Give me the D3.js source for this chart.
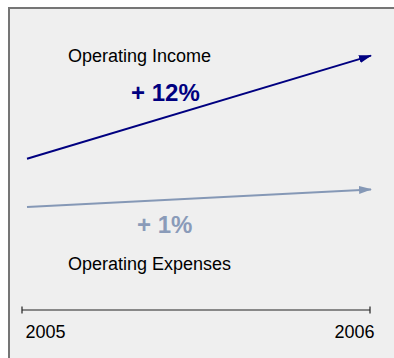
<!DOCTYPE html>
<html>
<head>
<meta charset="utf-8">
<script src="https://cdn.jsdelivr.net/npm/d3@7"></script>
<style>
  html, body { margin: 0; padding: 0; background: #ffffff; }
  svg { display: block; font-family: "Liberation Sans", Arial, sans-serif; }
</style>
</head>
<body>
<script>
// Years on the axis
const years = [2005, 2006];
// Relative levels (index units) at each year
const incomeValues = [50.4, 84.8];
const expenseValues = [34.3, 40.2];
// Growth labels
const incomeGrowth = "+ 12%";
const expenseGrowth = "+ 1%";
const seriesNames = ["Operating Income", "Operating Expenses"];
const tickLabels = ["2005", "2006"];

const W = 394, H = 358;
const svg = d3.select("body").append("svg").attr("width", W).attr("height", H);

// Panel with grey frame on top and left
svg.append("rect").attr("x", 8).attr("y", 7).attr("width", W).attr("height", H)
  .attr("fill", "#efefef");
svg.append("path").attr("d", `M9,${H} V8 H${W}`)
  .attr("fill", "none").attr("stroke", "#757575").attr("stroke-width", 2);

const x = d3.scaleLinear().domain([2005, 2006]).range([27, 371]);
const xAxisScale = d3.scaleLinear().domain([2005, 2006]).range([22, 370]);
const y = d3.scaleLinear().domain([0, 100]).range([310, 10]);

const defs = svg.append("defs");
function arrowMarker(id, color) {
  defs.append("marker")
    .attr("id", id)
    .attr("markerUnits", "userSpaceOnUse")
    .attr("viewBox", "0 -5 13 10")
    .attr("markerWidth", 13).attr("markerHeight", 10)
    .attr("refX", 12).attr("refY", 0)
    .attr("orient", "auto")
    .append("path").attr("d", "M0,-4L13,0L0,4Z").attr("fill", color);
}
const incomeColor = "#000080";
const expenseColor = "#8598b6";
arrowMarker("arrow-income", incomeColor);
arrowMarker("arrow-expense", expenseColor);

const line = d3.line().x(d => x(d[0])).y(d => y(d[1]));

svg.append("path")
  .datum(years.map((yr, i) => [yr, incomeValues[i]]))
  .attr("d", line).attr("fill", "none")
  .attr("stroke", incomeColor).attr("stroke-width", 2)
  .attr("marker-end", "url(#arrow-income)");

svg.append("path")
  .datum(years.map((yr, i) => [yr, expenseValues[i]]))
  .attr("d", line).attr("fill", "none")
  .attr("stroke", expenseColor).attr("stroke-width", 2)
  .attr("marker-end", "url(#arrow-expense)");

// Labels
svg.append("text").attr("x", 68).attr("y", 62)
  .attr("font-size", 18).attr("fill", "#000").text(seriesNames[0]);
svg.append("text").attr("x", 131).attr("y", 101)
  .attr("font-size", 24).attr("font-weight", "bold").attr("fill", incomeColor)
  .text(incomeGrowth);
svg.append("text").attr("x", 137).attr("y", 233)
  .attr("font-size", 24).attr("font-weight", "bold").attr("fill", "#8a9bb9")
  .text(expenseGrowth);
svg.append("text").attr("x", 68).attr("y", 270)
  .attr("font-size", 18).attr("fill", "#000").text(seriesNames[1]);

// Time axis
const axis = d3.axisBottom(xAxisScale)
  .tickValues(years)
  .tickSize(0)
  .tickFormat((d, i) => tickLabels[i]);
const gAxis = svg.append("g").attr("transform", "translate(0,310)").call(axis);
gAxis.select(".domain").attr("stroke", "#222").attr("stroke-width", 1.2)
  .attr("d", `M${xAxisScale(2005)},-3.5V3.5V0H${xAxisScale(2006)}V-3.5V3.5`);
gAxis.selectAll(".tick text")
  .attr("font-size", 18).attr("font-family", "Liberation Sans, Arial, sans-serif")
  .attr("fill", "#000")
  .attr("y", 28).attr("dy", 0)
  .attr("text-anchor", (d, i) => i === 0 ? "start" : "end")
  .attr("dx", (d, i) => i === 0 ? 3 : 4);
</script>
</body>
</html>
